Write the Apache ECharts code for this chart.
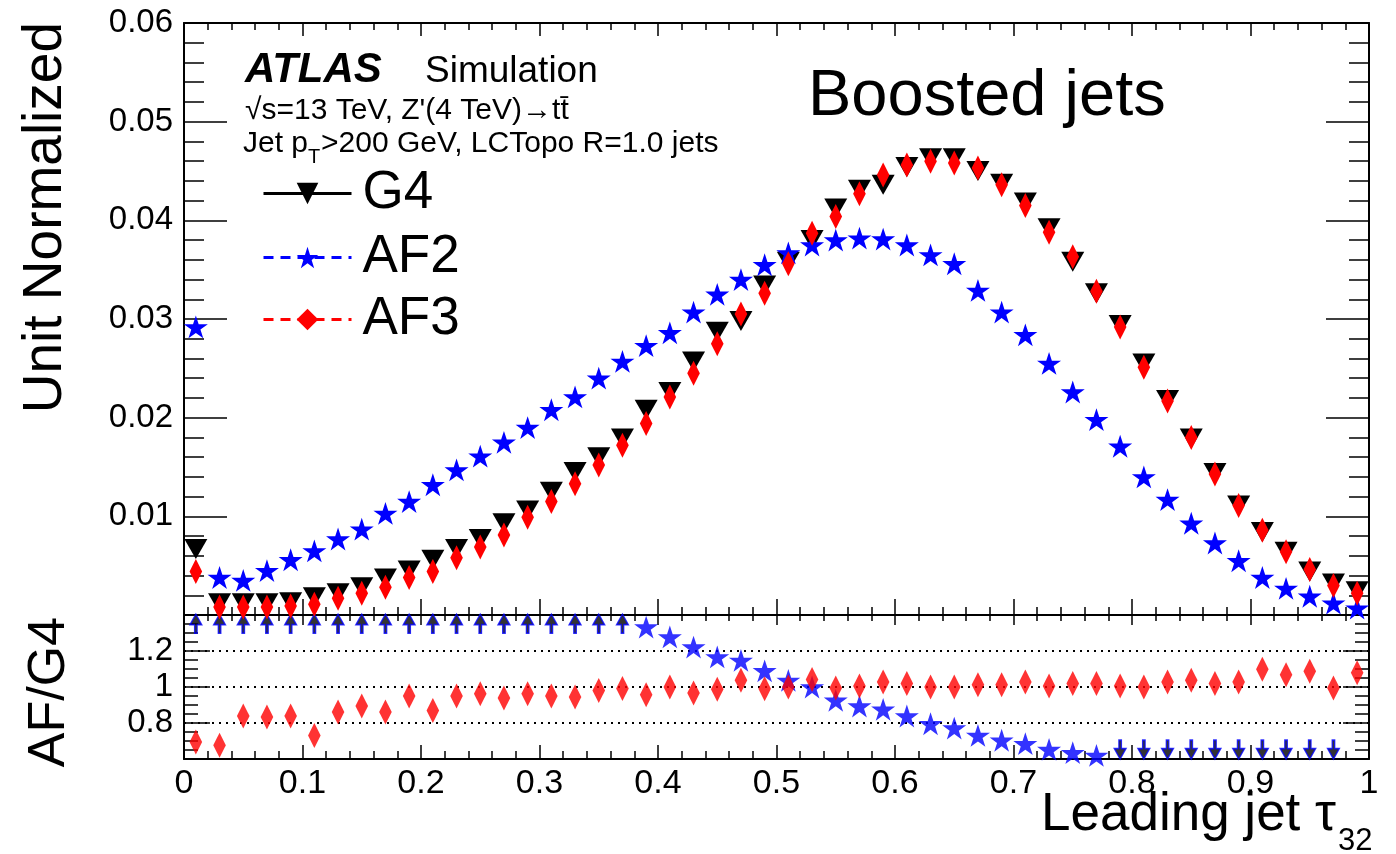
<!DOCTYPE html>
<html>
<head>
<meta charset="utf-8">
<script src="https://cdn.jsdelivr.net/npm/echarts@6/dist/echarts.min.js"></script>
<style>
html, body { margin: 0; padding: 0; background: #fff; }
#chart { width: 1396px; height: 854px; }
</style>
</head>
<body>
<div id="chart"></div>
<script>
// bin centres of leading jet tau32 (bin width 0.02)
var binCenters = [0.01, 0.03, 0.05, 0.07, 0.09, 0.11, 0.13, 0.15, 0.17, 0.19,
                  0.21, 0.23, 0.25, 0.27, 0.29, 0.31, 0.33, 0.35, 0.37, 0.39,
                  0.41, 0.43, 0.45, 0.47, 0.49, 0.51, 0.53, 0.55, 0.57, 0.59,
                  0.61, 0.63, 0.65, 0.67, 0.69, 0.71, 0.73, 0.75, 0.77, 0.79,
                  0.81, 0.83, 0.85, 0.87, 0.89, 0.91, 0.93, 0.95, 0.97, 0.99];

// unit normalized distributions
var g4 = [0.0067, 0.0012, 0.0012, 0.0012, 0.0013, 0.0018, 0.0022, 0.0028, 0.0037, 0.0045,
          0.0056, 0.0067, 0.0077, 0.0093, 0.0106, 0.0125, 0.0145, 0.0160, 0.0179, 0.0208,
          0.0226, 0.0257, 0.0287, 0.0298, 0.0334, 0.0358, 0.0380, 0.0412, 0.0431, 0.0436,
          0.0454, 0.0463, 0.0463, 0.0450, 0.0437, 0.0418, 0.0392, 0.0358, 0.0326, 0.0294,
          0.0255, 0.0218, 0.0179, 0.0144, 0.0111, 0.0084, 0.0064, 0.0044, 0.0032, 0.0024];
var af2 = [0.0292, 0.0038, 0.0035, 0.0045, 0.0056, 0.0065, 0.0077, 0.0087, 0.0103, 0.0115,
           0.0132, 0.0147, 0.0161, 0.0175, 0.0190, 0.0208, 0.0221, 0.0240, 0.0257, 0.0273,
           0.0286, 0.0307, 0.0325, 0.0340, 0.0355, 0.0367, 0.0375, 0.0380, 0.0382, 0.0381,
           0.0375, 0.0365, 0.0356, 0.0329, 0.0307, 0.0284, 0.0255, 0.0226, 0.0198, 0.0171,
           0.0140, 0.0117, 0.0093, 0.0073, 0.0055, 0.0038, 0.0027, 0.0019, 0.0012, 0.0007];
var af3 = [0.0044, 0.0008, 0.0008, 0.0008, 0.0009, 0.0011, 0.0017, 0.0022, 0.0028, 0.0038,
           0.0044, 0.0058, 0.0069, 0.0081, 0.0099, 0.0115, 0.0133, 0.0152, 0.0172, 0.0194,
           0.0221, 0.0245, 0.0275, 0.0305, 0.0326, 0.0356, 0.0387, 0.0404, 0.0427, 0.0446,
           0.0456, 0.0460, 0.0458, 0.0453, 0.0436, 0.0415, 0.0388, 0.0363, 0.0328, 0.0292,
           0.0251, 0.0217, 0.0180, 0.0143, 0.0111, 0.0086, 0.0064, 0.0046, 0.0030, 0.0022];

// ratio panel AF/G4
var af3Ratio = [0.694, 0.676, 0.839, 0.833, 0.839, 0.731, 0.861, 0.894, 0.861, 0.950,
                0.870, 0.950, 0.963, 0.939, 0.963, 0.950, 0.944, 0.981, 0.991, 0.957,
                1.000, 0.967, 0.987, 1.037, 0.990, 1.000, 1.042, 0.994, 1.006, 1.028,
                1.019, 1.000, 1.000, 1.013, 1.013, 1.028, 1.006, 1.019, 1.019, 1.006,
                1.000, 1.028, 1.037, 1.019, 1.028, 1.098, 1.068, 1.087, 0.994, 1.079];
var af2Ratio = [null, null, null, null, null, null, null, null, null, null,
                null, null, null, null, null, null, null, null, null, 1.333,
                1.278, 1.222, 1.167, 1.148, 1.090, 1.037, 1.000, 0.926, 0.894, 0.876,
                0.839, 0.796, 0.772, 0.731, 0.704, 0.685, 0.653, 0.635, 0.620, null,
                null, null, null, null, null, null, null, null, null, null];
// off-scale AF2 ratio, drawn as arrows at the panel edge
var af2RatioUp = [1.352, 1.352, 1.352, 1.352, 1.352, 1.352, 1.352, 1.352, 1.352, 1.352,
                  1.352, 1.352, 1.352, 1.352, 1.352, 1.352, 1.352, 1.352, 1.352, null,
                  null, null, null, null, null, null, null, null, null, null,
                  null, null, null, null, null, null, null, null, null, null,
                  null, null, null, null, null, null, null, null, null, null];
var af2RatioDown = [null, null, null, null, null, null, null, null, null, null,
                    null, null, null, null, null, null, null, null, null, null,
                    null, null, null, null, null, null, null, null, null, null,
                    null, null, null, null, null, null, null, null, null, 0.652,
                    0.652, 0.652, 0.652, 0.652, 0.652, 0.652, 0.652, 0.652, 0.652, null];

function pairs(ys) {
  return binCenters.map(function (x, i) { return [x, ys[i]]; });
}

var FONT = '"Liberation Sans", Arial, Helvetica, sans-serif';
var BLACK = '#000000', BLUE = '#0000ff', RED = '#ff0000';
var starPath = 'path://M50,0 L61.2,34.5 L97.6,34.5 L68.2,55.9 L79.4,90.5 L50,69.1 L20.6,90.5 L31.8,55.9 L2.4,34.5 L38.8,34.5 Z';
var diamondPath = 'path://M7,0 L14,10 L7,20 L0,10 Z';
var arrowPath = 'path://M7,0 L14,10 L8.5,10 L8.5,18 L5.5,18 L5.5,10 L0,10 Z';

var chart = echarts.init(document.getElementById('chart'));

function xAx(grid, pos, major, minor, labels) {
  return {
    type: 'value', gridIndex: grid, position: pos, min: 0, max: 1, interval: 0.1,
    axisLine: { show: true, onZero: false, lineStyle: { color: BLACK, width: 2 } },
    axisTick: { show: true, inside: true, length: major, lineStyle: { color: BLACK, width: 1.5 } },
    minorTick: { show: true, splitNumber: 5, length: minor, lineStyle: { color: BLACK, width: 1.5 } },
    axisLabel: { show: labels, fontFamily: FONT, fontSize: 34, color: BLACK, margin: 8 },
    splitLine: { show: false }
  };
}
function yAx(grid, pos, min, max, step, minorSplit, major, minor, labels, dotted) {
  return {
    type: 'value', gridIndex: grid, position: pos, min: min, max: max, interval: step,
    axisLine: { show: true, onZero: false, lineStyle: { color: BLACK, width: 2 } },
    axisTick: { show: true, inside: true, length: major, lineStyle: { color: BLACK, width: 1.5 } },
    minorTick: { show: true, splitNumber: minorSplit, length: minor, lineStyle: { color: BLACK, width: 1.5 } },
    axisLabel: { show: labels, fontFamily: FONT, fontSize: 33, color: BLACK, margin: 11,
                 showMinLabel: false, showMaxLabel: grid === 0 },
    splitLine: { show: dotted, lineStyle: { color: BLACK, width: 2, type: [2, 5] } }
  };
}

function mainSeries(name, ys, symbol, size, rotate, color) {
  return {
    name: name, type: 'line', xAxisIndex: 0, yAxisIndex: 0, data: pairs(ys),
    symbol: symbol, symbolSize: size, symbolRotate: rotate, symbolKeepAspect: true,
    showSymbol: true, silent: true,
    itemStyle: { color: color, opacity: 1 },
    lineStyle: { width: 0, opacity: 0 }
  };
}
function ratioSeries(name, ys, symbol, size, rotate, style) {
  return {
    name: name, type: 'scatter', xAxisIndex: 2, yAxisIndex: 2, data: pairs(ys),
    symbol: symbol, symbolSize: size, symbolRotate: rotate, symbolKeepAspect: true,
    silent: true, itemStyle: style
  };
}
function legendAt(name, top, lineColor, lineType) {
  return {
    show: true, left: 262, top: top, padding: 0, selectedMode: false,
    itemWidth: 88, itemHeight: 27,
    textStyle: { fontFamily: FONT, fontSize: 53, color: BLACK, padding: [0, 0, 0, 6] },
    data: [{ name: name, lineStyle: { color: lineColor, width: 3, type: lineType, opacity: 1 } }]
  };
}

var option = {
  animation: false,
  backgroundColor: '#ffffff',
  grid: [
    { left: 184, right: 27, top: 23, height: 592, containLabel: false },
    { left: 184, right: 27, top: 615, height: 144, containLabel: false }
  ],
  xAxis: [
    xAx(0, 'bottom', 16, 8, false),
    xAx(0, 'top', 13, 7, false),
    xAx(1, 'bottom', 14, 8, true),
    xAx(1, 'top', 10, 6, false)
  ],
  yAxis: [
    yAx(0, 'left', 0, 0.06, 0.01, 5, 43, 20, true, false),
    yAx(0, 'right', 0, 0.06, 0.01, 5, 43, 20, false, false),
    yAx(1, 'left', 0.6, 1.4, 0.2, 4, 26, 14, true, true),
    yAx(1, 'right', 0.6, 1.4, 0.2, 4, 26, 14, false, false)
  ],
  legend: [
    legendAt('G4', 167, BLACK, 'solid'),
    legendAt('AF2', 231, BLUE, [10, 7]),
    legendAt('AF3', 293, RED, [10, 7])
  ],
  series: [
    mainSeries('G4', g4, 'triangle', [23, 20], 180, BLACK),
    mainSeries('AF2', af2, starPath, 24, 0, BLUE),
    mainSeries('AF3', af3, diamondPath, [18, 25], 0, RED),
    ratioSeries('AF2 up', af2RatioUp, arrowPath, [15, 19], 0,
                { color: BLACK, borderColor: BLUE, borderWidth: 1.5 }),
    ratioSeries('AF2 down', af2RatioDown, arrowPath, [15, 19], 180,
                { color: BLACK, borderColor: BLUE, borderWidth: 1.5 }),
    ratioSeries('AF2/G4', af2Ratio, starPath, 24, 0, { color: BLUE }),
    ratioSeries('AF3/G4', af3Ratio, diamondPath, [18, 25], 0, { color: RED })
  ],
  graphic: [
    { type: 'text', x: 46, y: 22, rotation: Math.PI / 2, silent: true,
      style: { text: 'Unit Normalized', x: 0, y: 0, font: '55px ' + FONT, fill: BLACK,
               align: 'right', textAlign: 'right', verticalAlign: 'middle', textVerticalAlign: 'middle' } },
    { type: 'text', x: 50, y: 617, rotation: Math.PI / 2, silent: true,
      style: { text: 'AF/G4', x: 0, y: 0, font: '52px ' + FONT, fill: BLACK,
               align: 'right', textAlign: 'right', verticalAlign: 'middle', textVerticalAlign: 'middle' } },
    { type: 'text', x: 1336, y: 815, silent: true,
      style: { text: 'Leading jet \u03c4', x: 0, y: 0, font: '53px ' + FONT, fill: BLACK,
               align: 'right', textAlign: 'right', verticalAlign: 'middle', textVerticalAlign: 'middle' } },
    { type: 'text', x: 1338, y: 841, silent: true,
      style: { text: '32', x: 0, y: 0, font: '31px ' + FONT, fill: BLACK,
               align: 'left', textAlign: 'left', verticalAlign: 'middle', textVerticalAlign: 'middle' } },
    { type: 'text', x: 245, y: 70, silent: true,
      style: { text: 'ATLAS', x: 0, y: 0, font: 'italic bold 42px ' + FONT, fill: BLACK,
               align: 'left', textAlign: 'left', verticalAlign: 'middle', textVerticalAlign: 'middle' } },
    { type: 'text', x: 425, y: 72, silent: true,
      style: { text: 'Simulation', x: 0, y: 0, font: '37px ' + FONT, fill: BLACK,
               align: 'left', textAlign: 'left', verticalAlign: 'middle', textVerticalAlign: 'middle' } },
    { type: 'text', x: 245, y: 111, silent: true,
      style: { text: '\u221as=13 TeV, Z\'(4 TeV)\u2192tt\u0304', x: 0, y: 0, font: '30px ' + FONT, fill: BLACK,
               align: 'left', textAlign: 'left', verticalAlign: 'middle', textVerticalAlign: 'middle' } },
    { type: 'text', x: 243, y: 144, silent: true,
      style: { text: 'Jet p', x: 0, y: 0, font: '30px ' + FONT, fill: BLACK,
               align: 'left', textAlign: 'left', verticalAlign: 'middle', textVerticalAlign: 'middle' } },
    { type: 'text', x: 308, y: 157, silent: true,
      style: { text: 'T', x: 0, y: 0, font: '20px ' + FONT, fill: BLACK,
               align: 'left', textAlign: 'left', verticalAlign: 'middle', textVerticalAlign: 'middle' } },
    { type: 'text', x: 321, y: 144, silent: true,
      style: { text: '>200 GeV, LCTopo R=1.0 jets', x: 0, y: 0, font: '30px ' + FONT, fill: BLACK,
               align: 'left', textAlign: 'left', verticalAlign: 'middle', textVerticalAlign: 'middle' } },
    { type: 'text', x: 808, y: 97, silent: true,
      style: { text: 'Boosted jets', x: 0, y: 0, font: '65px ' + FONT, fill: BLACK,
               align: 'left', textAlign: 'left', verticalAlign: 'middle', textVerticalAlign: 'middle' } }
  ]
};

chart.setOption(option);
</script>
</body>
</html>
